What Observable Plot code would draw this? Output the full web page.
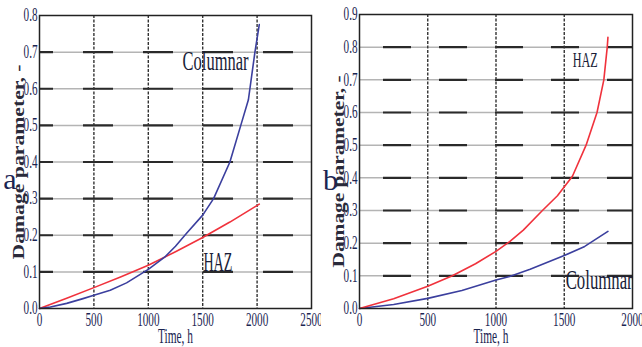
<!DOCTYPE html>
<html>
<head>
<meta charset="utf-8">
<script src="https://cdn.jsdelivr.net/npm/d3@7"></script>
<script src="https://cdn.jsdelivr.net/npm/@observablehq/plot@0.6"></script>
<style>
  body { margin: 0; background: #fff; width: 642px; height: 347px; overflow: hidden; }
  #wrap { display: flex; width: 642px; height: 347px; }
  #wrap > div { width: 321px; height: 347px; position: relative; }
</style>
</head>
<body>
<div id="wrap"><div id="left"></div><div id="right"></div></div>
<script>
// ---- Data (panel a) ----
const aColumnarTime = [0, 100, 250, 400, 500, 650, 800, 1000, 1150, 1250, 1350, 1500, 1600, 1750, 1850, 1920, 1980, 2020];
const aColumnarDamage = [0, 0.004, 0.014, 0.027, 0.036, 0.05, 0.07, 0.107, 0.14, 0.17, 0.205, 0.255, 0.3, 0.4, 0.5, 0.57, 0.7, 0.775];
const aHazTime = [0, 250, 500, 750, 1000, 1250, 1500, 1750, 2020];
const aHazDamage = [0, 0.028, 0.057, 0.087, 0.118, 0.155, 0.194, 0.236, 0.285];
const aXTicks = [0, 500, 1000, 1500, 2000, 2500];
const aYTicks = [0, 0.1, 0.2, 0.3, 0.4, 0.5, 0.6, 0.7, 0.8];

// ---- Data (panel b) ----
const bHazTime = [0, 250, 500, 680, 850, 1000, 1100, 1200, 1340, 1450, 1560, 1660, 1740, 1790, 1815, 1820];
const bHazDamage = [0, 0.03, 0.068, 0.1, 0.137, 0.175, 0.205, 0.24, 0.3, 0.345, 0.405, 0.5, 0.6, 0.7, 0.8, 0.83];
const bColumnarTime = [0, 250, 500, 750, 1000, 1100, 1250, 1500, 1650, 1820];
const bColumnarDamage = [0, 0.012, 0.031, 0.055, 0.087, 0.098, 0.12, 0.162, 0.19, 0.236];
const bXTicks = [0, 500, 1000, 1500, 2000];
const bYTicks = [0, 0.1, 0.2, 0.3, 0.4, 0.5, 0.6, 0.7, 0.8, 0.9];

const xLabel = "Time, h";
const yLabel = "Damage parameter, -";

const BLUE = "#3b3f9e", RED = "#f0323c", TXT = "#1b2552";

function pts(xs, ys) { return xs.map((x, i) => ({x, y: ys[i]})); }

function panel({xTicks, yTicks, series, labels, letter, letterPos, mL, mT, gridPeriod, gridOffset, yLabelDy, xLabelDx}) {
  const xMax = xTicks[xTicks.length - 1], yMax = yTicks[yTicks.length - 1];
  const innerY = yTicks.slice(1, -1), innerX = xTicks.slice(1, -1);
  return Plot.plot({
    width: 321, height: 347,
    marginLeft: mL, marginRight: 10, marginTop: mT, marginBottom: 39,
    style: {fontFamily: "Liberation Serif", fontSize: "18px", color: TXT, background: "transparent"},
    x: {domain: [0, xMax], ticks: xTicks, tickSize: 0, tickPadding: 5, tickFormat: d3.format("d"), label: null},
    y: {domain: [0, yMax], ticks: yTicks, tickSize: 0, tickPadding: 2, tickFormat: d3.format(".1f"), label: null},
    marks: [
      Plot.ruleY(innerY, {stroke: "#b4b4b4", strokeWidth: 1.5}),
      Plot.ruleY(innerY, {stroke: "#2a2a2a", strokeWidth: 2.2, strokeDasharray: `${gridPeriod},${gridPeriod}`, strokeDashoffset: gridOffset}),
      Plot.ruleX(innerX, {stroke: "#333", strokeWidth: 1.4, strokeDasharray: "3,1.5"}),
      ...series.map(s => Plot.line(pts(s.x, s.y), {x: "x", y: "y", stroke: s.color, strokeWidth: 1.6})),
      Plot.frame({stroke: "#222", strokeWidth: 1.5}),
      ...labels.map(l => Plot.text([l], {x: "x", y: "y", text: "t", fontSize: l.size, textAnchor: "middle", lineAnchor: "bottom", fill: "#1a1d38"})),
      Plot.text([xLabel], {frameAnchor: "bottom", dy: 34, dx: xLabelDx, textAnchor: "middle", lineAnchor: "bottom", fontSize: 20, fill: TXT}),
      Plot.text([yLabel], {frameAnchor: "left", dx: -21, dy: yLabelDy, rotate: -90, textAnchor: "middle", lineAnchor: "middle", fontSize: 17, fontWeight: "bold", fill: "#2a2a3a"}),
      Plot.text([letter], {frameAnchor: "left", dx: letterPos[0], dy: letterPos[1], textAnchor: "middle", lineAnchor: "bottom", fontSize: 30, fill: TXT})
    ]
  });
}

const left = panel({
  xTicks: aXTicks, yTicks: aYTicks,
  series: [{x: aHazTime, y: aHazDamage, color: RED}, {x: aColumnarTime, y: aColumnarDamage, color: BLUE}],
  labels: [{x: 1618, y: 0.652, t: "Columnar", size: 28}, {x: 1640, y: 0.103, t: "HAZ", size: 27}],
  letter: "a", letterPos: [-29.5, 26.5], mL: 39, mT: 15, gridPeriod: 30, gridOffset: 16, yLabelDy: 0, xLabelDx: 0
});
const right = panel({
  xTicks: bXTicks, yTicks: bYTicks,
  series: [{x: bColumnarTime, y: bColumnarDamage, color: BLUE}, {x: bHazTime, y: bHazDamage, color: RED}],
  labels: [{x: 1654, y: 0.738, t: "HAZ", size: 22}, {x: 1756, y: 0.060, t: "Columnar", size: 27}],
  letter: "b", letterPos: [-29, 28], mL: 38, mT: 14, gridPeriod: 28, gridOffset: 32, yLabelDy: 10, xLabelDx: -5
});
document.getElementById("left").appendChild(left);
document.getElementById("right").appendChild(right);

function condense(svg, specific) {
  svg.querySelectorAll("text").forEach(t => {
    const s = t.textContent;
    let L = null;
    if (s in specific) L = specific[s];
    else if (/^[0-9.]+$/.test(s)) L = t.getComputedTextLength() * 0.62;
    if (L) { t.setAttribute("textLength", L); t.setAttribute("lengthAdjust", "spacingAndGlyphs"); }
  });
}
condense(left, {"Columnar": 66, "HAZ": 29, "Time, h": 35, "Damage parameter, -": 195});
condense(right, {"Columnar": 67, "HAZ": 25, "Time, h": 35, "Damage parameter, -": 192});
</script>
</body>
</html>
